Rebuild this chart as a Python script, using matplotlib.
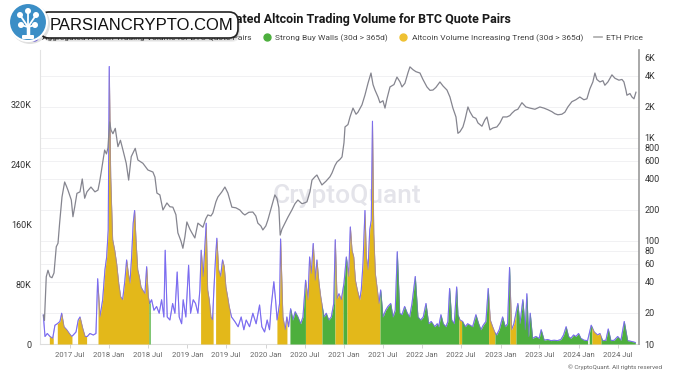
import numpy as np
import pandas as pd
import matplotlib
matplotlib.use("Agg")
import matplotlib.pyplot as plt
import matplotlib.dates as mdates
import matplotlib.transforms as mtransforms
from matplotlib.patches import FancyBboxPatch, Circle
from matplotlib.lines import Line2D
from matplotlib.ticker import FixedLocator, FixedFormatter, NullLocator

plt.rcParams['font.family'] = ['Roboto', 'DejaVu Sans']

# ---------------- data ----------------
title = "Aggregated Altcoin Trading Volume for BTC Quote Pairs"
legend_labels = ["Aggregated Altcoin Trading Volume for BTC Quote Pairs",
                 "Strong Buy Walls (30d > 365d)",
                 "Altcoin Volume Increasing Trend (30d > 365d)",
                 "ETH Price"]

# aggregated altcoin volume (thousands), time as decimal year
vol_t = [2017.159, 2017.181, 2017.210, 2017.245, 2017.279, 2017.308, 2017.338, 2017.372, 2017.394, 2017.423,
         2017.458, 2017.491, 2017.522, 2017.542, 2017.577, 2017.606, 2017.628, 2017.662, 2017.692, 2017.721,
         2017.755, 2017.798, 2017.832, 2017.854, 2017.883, 2017.918, 2017.947, 2017.969, 2017.989, 2018.002,
         2018.020, 2018.045, 2018.071, 2018.096, 2018.122, 2018.147, 2018.173, 2018.202, 2018.224, 2018.245,
         2018.266, 2018.288, 2018.308, 2018.326, 2018.343, 2018.365, 2018.385, 2018.407, 2018.428, 2018.458,
         2018.480, 2018.500, 2018.518, 2018.543, 2018.573, 2018.607, 2018.640, 2018.671, 2018.700, 2018.717,
         2018.743, 2018.777, 2018.812, 2018.841, 2018.870, 2018.896, 2018.927, 2018.947, 2018.981, 2019.016,
         2019.041, 2019.075, 2019.105, 2019.135, 2019.160, 2019.177, 2019.202, 2019.224, 2019.241, 2019.259,
         2019.279, 2019.301, 2019.322, 2019.339, 2019.361, 2019.377, 2019.399, 2019.425, 2019.450, 2019.471,
         2019.492, 2019.514, 2019.534, 2019.565, 2019.607, 2019.649, 2019.688, 2019.722, 2019.752, 2019.795,
         2019.837, 2019.879, 2019.923, 2019.952, 2019.987, 2020.020, 2020.050, 2020.071, 2020.105, 2020.127,
         2020.147, 2020.178, 2020.191, 2020.220, 2020.250, 2020.271, 2020.293, 2020.319, 2020.348, 2020.377,
         2020.412, 2020.446, 2020.476, 2020.510, 2020.540, 2020.561, 2020.582, 2020.607, 2020.633, 2020.654,
         2020.680, 2020.702, 2020.722, 2020.744, 2020.773, 2020.804, 2020.837, 2020.868, 2020.888, 2020.910,
         2020.935, 2020.965, 2020.999, 2021.029, 2021.059, 2021.080, 2021.101, 2021.123, 2021.144, 2021.169,
         2021.200, 2021.220, 2021.242, 2021.267, 2021.284, 2021.306, 2021.328, 2021.348, 2021.363, 2021.379,
         2021.399, 2021.425, 2021.446, 2021.468, 2021.497, 2021.532, 2021.561, 2021.596, 2021.625, 2021.654,
         2021.680, 2021.711, 2021.740, 2021.774, 2021.808, 2021.838, 2021.868, 2021.910, 2021.944, 2021.979,
         2022.012, 2022.047, 2022.081, 2022.114, 2022.158, 2022.191, 2022.209, 2022.238, 2022.267, 2022.302,
         2022.327, 2022.349, 2022.375, 2022.408, 2022.439, 2022.455, 2022.481, 2022.515, 2022.548, 2022.579,
         2022.612, 2022.643, 2022.685, 2022.720, 2022.749, 2022.778, 2022.813, 2022.842, 2022.868, 2022.898,
         2022.924, 2022.949, 2022.983, 2023.026, 2023.059, 2023.090, 2023.115, 2023.141, 2023.170, 2023.187,
         2023.221, 2023.247, 2023.285, 2023.315, 2023.336, 2023.358, 2023.379, 2023.409, 2023.451, 2023.493,
         2023.519, 2023.557, 2023.601, 2023.643, 2023.685, 2023.728, 2023.771, 2023.805, 2023.838, 2023.869,
         2023.898, 2023.933, 2023.962, 2023.997, 2024.026, 2024.068, 2024.112, 2024.158, 2024.196, 2024.239,
         2024.269, 2024.303, 2024.345, 2024.375, 2024.409, 2024.451, 2024.495, 2024.537, 2024.579, 2024.622,
         2024.686, 2024.720]
vol_k = [38.6, 10, 14, 10, 7.5, 25, 27, 30, 41, 23,
         19, 14, 10, 12, 16, 32, 36, 21, 10, 10,
         14, 12, 14, 87, 36, 59, 99, 116, 152, 370,
         223, 139, 125, 107, 81, 63, 59, 85, 112, 94,
         81, 116, 161, 178, 139, 99, 90, 76, 72, 67,
         103, 63, 54, 59, 45, 50, 41, 59, 36, 125,
         36, 32, 54, 41, 96, 36, 27, 59, 36, 105,
         41, 59, 54, 41, 72, 125, 90, 130, 161, 72,
         59, 36, 32, 72, 116, 141, 99, 90, 112, 103,
         76, 63, 50, 36, 30, 23, 36, 19, 32, 23,
         41, 27, 52, 23, 16, 32, 19, 50, 83, 59,
         32, 54, 140, 36, 19, 36, 23, 47, 32, 43,
         36, 27, 36, 85, 59, 116, 94, 134, 85, 112,
         81, 63, 50, 36, 41, 32, 36, 54, 139, 60,
         67, 59, 81, 116, 90, 156, 125, 116, 85, 72,
         59, 72, 107, 178, 116, 99, 152, 165, 297, 147,
         94, 72, 54, 72, 36, 45, 50, 54, 36, 45,
         123, 41, 39, 50, 41, 36, 54, 90, 36, 32,
         36, 54, 27, 30, 23, 27, 23, 39, 27, 23,
         30, 74, 32, 27, 76, 39, 32, 30, 23, 27,
         25, 23, 39, 27, 19, 25, 30, 74, 32, 23,
         16, 12, 19, 36, 23, 27, 102, 19, 27, 36,
         54, 27, 59, 19, 67, 10, 41, 7.5, 10, 7.5,
         19, 5, 6, 4.5, 5, 4.5, 6, 12, 23, 10,
         7.5, 12, 10, 14, 7.5, 5, 4.5, 25, 16, 12,
         14, 4.5, 5, 20, 4.5, 5, 10, 5, 30, 4.5,
         3, 2]

# ETH price (USD), time as decimal year
eth_t = [2017.162, 2017.174, 2017.197, 2017.219, 2017.245, 2017.270, 2017.296, 2017.325, 2017.347, 2017.368,
         2017.398, 2017.432, 2017.455, 2017.474, 2017.517, 2017.538, 2017.560, 2017.589, 2017.628, 2017.657,
         2017.688, 2017.717, 2017.768, 2017.819, 2017.858, 2017.879, 2017.900, 2017.943, 2017.966, 2017.985,
         2018.007, 2018.024, 2018.049, 2018.079, 2018.113, 2018.145, 2018.177, 2018.219, 2018.250, 2018.283,
         2018.334, 2018.368, 2018.432, 2018.496, 2018.560, 2018.586, 2018.611, 2018.649, 2018.688, 2018.739,
         2018.777, 2018.815, 2018.854, 2018.879, 2018.918, 2018.943, 2018.969, 2018.994, 2019.033, 2019.058,
         2019.096, 2019.135, 2019.199, 2019.237, 2019.262, 2019.301, 2019.326, 2019.365, 2019.390, 2019.441,
         2019.480, 2019.518, 2019.569, 2019.620, 2019.671, 2019.709, 2019.735, 2019.786, 2019.837, 2019.875,
         2019.901, 2019.939, 2019.965, 2020.003, 2020.029, 2020.054, 2020.093, 2020.118, 2020.144, 2020.169,
         2020.186, 2020.208, 2020.246, 2020.284, 2020.335, 2020.374, 2020.412, 2020.463, 2020.501, 2020.527,
         2020.565, 2020.591, 2020.629, 2020.654, 2020.693, 2020.718, 2020.769, 2020.820, 2020.846, 2020.884,
         2020.910, 2020.948, 2020.974, 2020.999, 2021.012, 2021.050, 2021.076, 2021.114, 2021.153, 2021.178,
         2021.229, 2021.267, 2021.306, 2021.344, 2021.370, 2021.395, 2021.434, 2021.459, 2021.497, 2021.523,
         2021.548, 2021.587, 2021.638, 2021.676, 2021.715, 2021.740, 2021.778, 2021.817, 2021.842, 2021.881,
         2021.919, 2021.970, 2022.008, 2022.059, 2022.098, 2022.136, 2022.174, 2022.225, 2022.264, 2022.315,
         2022.353, 2022.391, 2022.430, 2022.455, 2022.481, 2022.519, 2022.545, 2022.583, 2022.608, 2022.647,
         2022.685, 2022.711, 2022.762, 2022.800, 2022.826, 2022.864, 2022.902, 2022.953, 2022.992, 2023.030,
         2023.081, 2023.119, 2023.145, 2023.183, 2023.221, 2023.273, 2023.324, 2023.375, 2023.439, 2023.502,
         2023.554, 2023.605, 2023.656, 2023.694, 2023.732, 2023.783, 2023.822, 2023.860, 2023.911, 2023.962,
         2024.013, 2024.064, 2024.103, 2024.141, 2024.179, 2024.205, 2024.230, 2024.269, 2024.307, 2024.332,
         2024.371, 2024.422, 2024.460, 2024.511, 2024.550, 2024.575, 2024.601, 2024.613, 2024.652, 2024.677,
         2024.703, 2024.728]
eth_price = [19, 17, 45, 52, 45, 44, 49, 88, 95, 150,
             267, 374, 340, 312, 250, 172, 213, 290, 300, 400,
             260, 300, 334, 300, 312, 375, 470, 764, 700, 800,
             1430, 1197, 1100, 1240, 824, 950, 764, 568, 390, 659,
             793, 611, 568, 489, 467, 417, 292, 280, 200, 234,
             215, 213, 180, 120, 100, 85, 110, 153, 130, 120,
             107, 149, 136, 165, 179, 175, 187, 240, 267, 300,
             334, 292, 213, 210, 200, 185, 179, 190, 191, 175,
             149, 140, 128, 140, 160, 187, 240, 280, 260, 210,
             114, 130, 149, 170, 200, 230, 250, 230, 235, 240,
             300, 390, 420, 437, 380, 350, 380, 420, 457, 540,
             585, 620, 655, 900, 1280, 1350, 1600, 1950, 1700, 1780,
             2100, 2610, 3400, 4270, 3300, 2920, 2500, 2200, 2300, 1950,
             2400, 3130, 3300, 3900, 3500, 3130, 3400, 4300, 4900, 4600,
             4400, 4270, 3700, 3130, 2900, 2920, 3100, 3500, 3200, 2920,
             2500, 1950, 1600, 1110, 1150, 1280, 1500, 2000, 1800, 1600,
             1550, 1400, 1300, 1500, 1600, 1200, 1250, 1280, 1400, 1600,
             1600, 1650, 1740, 1850, 1900, 2200, 2000, 1950, 1900, 2000,
             1950, 1880, 1800, 1720, 1680, 1700, 1780, 2000, 2250, 2350,
             2500, 2350, 2400, 3000, 3500, 4270, 3700, 3500, 3600, 3250,
             3500, 4100, 3800, 3640, 3700, 3500, 2900, 2600, 2700, 2500,
             2400, 2780]

# signal periods (decimal years)
sig_start = [2017.236, 2017.338, 2017.598, 2017.858, 2018.509, 2019.169, 2019.361, 2020.144,
             2020.310, 2020.508, 2020.718, 2020.884, 2020.986, 2021.037, 2021.459, 2022.468,
             2022.502, 2022.847, 2022.928, 2023.119, 2023.196, 2024.132, 2024.167, 2024.282]
sig_end = [2017.287, 2017.526, 2017.713, 2018.509, 2018.526, 2019.330, 2019.543, 2020.272,
           2020.508, 2020.718, 2020.884, 2020.986, 2021.037, 2021.459, 2022.468, 2022.502,
           2022.847, 2022.928, 2023.119, 2023.196, 2024.112, 2024.167, 2024.282, 2024.720]
sig_kind = ['trend', 'trend', 'trend', 'trend', 'wall', 'trend', 'trend', 'trend',
            'wall', 'trend', 'wall', 'trend', 'wall', 'trend', 'wall', 'trend',
            'wall', 'trend', 'wall', 'trend', 'wall', 'wall', 'trend', 'wall']

vol_ticks = [0, 80, 160, 240, 320]
vol_tick_labels = ["0", "80K", "160K", "240K", "320K"]
eth_ticks = [10, 20, 40, 60, 80, 100, 200, 400, 600, 800, 1000, 2000, 4000, 6000]
eth_tick_labels = ["10", "20", "40", "60", "80", "100", "200", "400", "600", "800", "1K", "2K", "4K", "6K"]

# ---------------- helpers ----------------
def years_to_dates(ts):
    out = []
    for t in ts:
        y = int(np.floor(t))
        a = pd.Timestamp(year=y, month=1, day=1)
        b = pd.Timestamp(year=y + 1, month=1, day=1)
        out.append(a + (b - a) * (t - y))
    return pd.DatetimeIndex(out)

PURPLE = '#7B6CF0'
YELLOW = '#E3B81A'
GREEN = '#4DAF3D'
ETH_GRAY = '#85858f'

W, H = 674, 379
fig = plt.figure(figsize=(W / 100, H / 100), dpi=100)
fig.patch.set_facecolor('white')

ax = fig.add_axes([40 / W, 35 / H, 599 / W, 294 / H])
ax2 = ax.twinx()

vol_dates = years_to_dates(vol_t)
eth_dates = years_to_dates(eth_t)
vol_arr = np.array(vol_k, dtype=float)

# purple line (base)
ax.plot(vol_dates, vol_arr, color=PURPLE, lw=0.8, zorder=2)

# fills per signal period
tn = mdates.date2num(vol_dates)
grid = np.union1d(np.arange(tn[0], tn[-1], 0.25), tn)
gv = np.interp(grid, tn, vol_arr)
s_num = mdates.date2num(years_to_dates(sig_start))
e_num = mdates.date2num(years_to_dates(sig_end))
for s, e, k in zip(s_num, e_num, sig_kind):
    m = (grid >= s) & (grid <= e)
    ax.fill_between(grid, 0, gv, where=m, color=YELLOW if k == 'trend' else GREEN,
                    lw=0, zorder=3, interpolate=False)
ax.plot(vol_dates, vol_arr, color=PURPLE, lw=0.7, alpha=0.45, zorder=4)

# ETH price
ax2.plot(eth_dates, eth_price, color=ETH_GRAY, lw=0.9, zorder=5)
ax2.set_yscale('log')
ax2.set_ylim(10, 7145)

# faint gridlines at the right-axis levels, drawn beneath the fills
blend = mtransforms.blended_transform_factory(ax.transAxes, ax2.transData)
for v in eth_ticks[:-1]:
    ax.add_line(Line2D([0, 1], [v, v], transform=blend, color='#f1f1f3', lw=0.7, zorder=0))

# watermark
ax.text(0.512, 0.505, "CryptoQuant", transform=ax.transAxes, ha='center', va='center',
        fontsize=19, color='#e4e4ea', zorder=1, fontweight='medium')

# axes limits / ticks
xl = years_to_dates([2017.117, 2024.767])
ax.set_xlim(xl[0], xl[1])
ax.set_ylim(0, 392)
ax.yaxis.set_major_locator(FixedLocator(vol_ticks))
ax.yaxis.set_major_formatter(FixedFormatter(vol_tick_labels))
ax.xaxis.set_major_locator(mdates.MonthLocator(bymonth=[1, 7]))
ax.xaxis.set_major_formatter(mdates.DateFormatter('%Y %b'))
ax.tick_params(axis='y', length=0, pad=6, labelsize=6.5, labelcolor='#333333')
ax.tick_params(axis='x', length=3, width=0.6, color='#cccccc', pad=3, labelsize=5.5, labelcolor='#666666')

ax2.yaxis.set_major_locator(FixedLocator(eth_ticks))
ax2.yaxis.set_major_formatter(FixedFormatter(eth_tick_labels))
ax2.yaxis.set_minor_locator(NullLocator())
ax2.tick_params(axis='y', which='both', length=0, pad=4, labelsize=6.5, labelcolor='#333333')

for a in (ax, ax2):
    a.spines['top'].set_visible(False)
ax.spines['right'].set_visible(False)
ax.spines['left'].set_color('#e3e3e3')
ax.spines['bottom'].set_color('#dddddd')
ax.spines['left'].set_linewidth(0.8)
ax.spines['bottom'].set_linewidth(0.8)
ax2.spines['left'].set_visible(False)
ax2.spines['bottom'].set_visible(False)
ax2.spines['right'].set_color('#999999')
ax2.spines['right'].set_linewidth(1.2)

# title
fig.text(511 / W, 1 - 20 / H, title, ha='right', va='center', fontsize=9,
         fontweight='bold', color='#1a1a1a')

# legend
handles = [Line2D([], [], marker='o', ls='', markersize=5, color=PURPLE),
           Line2D([], [], marker='o', ls='', markersize=5, color=GREEN),
           Line2D([], [], marker='o', ls='', markersize=5, color='#EFC132'),
           Line2D([], [], color='#aaaaaa', lw=1.2)]
leg = fig.legend(handles, legend_labels, loc='center left', bbox_to_anchor=(30 / W, 1 - 38 / H),
                 ncol=4, frameon=False, fontsize=6, handlelength=1.0, handletextpad=0.5,
                 columnspacing=1.3, borderaxespad=0, borderpad=0)
for t in leg.get_texts():
    t.set_color('#444444')

# copyright
fig.text(662 / W, 1 - 367 / H, "\u00a9 CryptoQuant. All rights reserved", ha='right', va='center',
         fontsize=4.5, color='#666666')

# ---------------- logo overlay ----------------
ov = fig.add_axes([0, 0, 1, 1], zorder=10)
ov.set_xlim(0, W)
ov.set_ylim(H, 0)
ov.axis('off')
for i, al in enumerate([0.06, 0.06, 0.07, 0.08]):
    off = 4 - i
    ov.add_patch(FancyBboxPatch((40 + off * 0.6, 12 + off), 198, 26,
                                boxstyle='round,pad=0,rounding_size=9', fc='black', ec='none', alpha=al))
ov.add_patch(FancyBboxPatch((40, 12), 198, 26, boxstyle='round,pad=0,rounding_size=9',
                            fc='white', ec='#222222', lw=1.2))
ov.text(50, 25.5, "PARSIANCRYPTO.COM", ha='left', va='center', fontsize=12,
        family=['Liberation Sans', 'DejaVu Sans'], color='#111111')
# icon
ov.add_patch(Circle((30, 24), 20, fc='black', alpha=0.12, ec='none'))
ov.add_patch(Circle((28, 22), 19, fc='#3b8ec6', ec='white', lw=1.5))
ov.plot([28, 28], [36, 26], color='white', lw=2.5, solid_capstyle='round')
for bx, by in [(20, 15), (28, 11), (36, 15), (21, 25), (35, 25)]:
    ov.plot([28, bx], [27, by], color='white', lw=1.3)
    ov.add_patch(Circle((bx, by), 3.0, fc='white', ec='none'))
ov.add_patch(FancyBboxPatch((22, 35), 12, 4, boxstyle='round,pad=0,rounding_size=1', fc='white', ec='none'))

fig.savefig('out.png', dpi=100, facecolor='white')
